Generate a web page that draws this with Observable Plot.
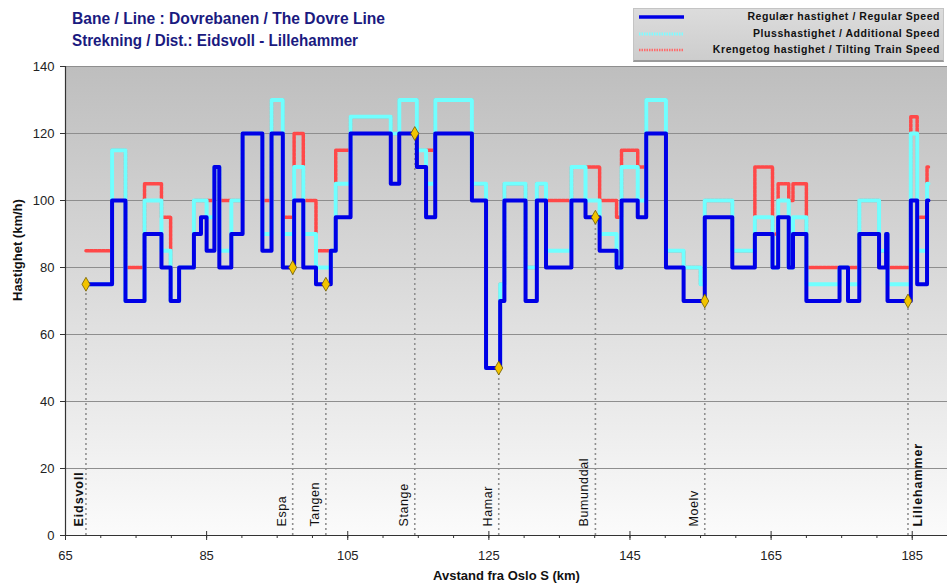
<!DOCTYPE html>
<html>
<head>
<meta charset="utf-8">
<script src="https://cdn.jsdelivr.net/npm/d3@7"></script>
<script src="https://cdn.jsdelivr.net/npm/@observablehq/plot@0.6"></script>
<style>
  html, body { margin: 0; padding: 0; background: #fff; }
  body { font-family: "Liberation Sans", Arial, sans-serif; }
  #wrap { position: relative; width: 947px; height: 586px; overflow: hidden; }
  #title { position: absolute; left: 72px; top: 8px; color: #1a1a80; font-weight: bold; font-size: 16px; line-height: 22px; white-space: nowrap; }
  #title div { transform-origin: 0 50%; }
  #legend { position: absolute; left: 633px; top: 8px; width: 311px; height: 54px;
    background: linear-gradient(#dcdcdc, #cdcdcd); border: 1px solid #c4c4c4; border-bottom: 2px solid #9a9a9a; box-sizing: border-box; }
  .lrow { position: absolute; left: 0; width: 100%; height: 16px; }
  .lrow svg { position: absolute; left: 4px; top: 0; }
  .lrow span { position: absolute; right: 3px; top: 1px; font-weight: bold; font-size: 10.5px; letter-spacing: 0.55px; color: #111; white-space: nowrap; }
</style>
</head>
<body>
<div id="wrap">
  <div id="chart"></div>
  <div id="title">
    <div id="t1">Bane / Line : Dovrebanen / The Dovre Line</div>
    <div id="t2">Strekning / Dist.: Eidsvoll - Lillehammer</div>
  </div>
  <div id="legend"></div>
</div>
<script>
// ---- data ----
const km = [67.9, 71.6, 73.5, 76.2, 78.6, 79.9, 81.1, 83.2, 84.2, 85.0, 86.1, 86.8, 88.5, 90.1, 92.9, 94.2, 95.8, 97.4, 98.7, 100.5,
            102.6, 103.3, 105.4, 111.1, 112.3, 114.8, 116.1, 117.4, 122.6, 124.6, 126.6, 127.2, 130.2, 131.8, 133.1, 136.7, 138.7, 140.7, 143.1, 143.8,
            146.1, 147.3, 150.1, 152.6, 155.0, 155.6, 159.5, 162.7, 165.2, 166.0, 167.5, 168.1, 170.0, 174.7, 175.9, 177.5, 180.3, 181.3, 181.5, 184.8,
            185.7, 187.1, 187.3];
const regular = [75, 100, 70, 90, 80, 70, 80, 90, 95, 85, 110, 80, 90, 120, 85, 120, 80, 100, 80, 75,
                 85, 95, 120, 105, 120, 110, 95, 120, 100, 50, 70, 100, 70, 100, 80, 100, 95, 85, 80, 100,
                 95, 120, 80, 70, 70, 95, 80, 90, 80, 95, 80, 90, 70, 80, 70, 90, 80, 90, 70, 100,
                 75, 100, 100];
const plus = [75, 115, 70, 100, 85, 70, 80, 100, 100, 95, 110, 85, 100, 120, 90, 130, 90, 110, 90, 80,
              85, 105, 125, 120, 130, 115, 105, 130, 105, 50, 75, 105, 80, 105, 85, 110, 100, 90, 80, 110,
              100, 130, 85, 80, 75, 100, 85, 95, 80, 100, 80, 95, 75, 80, 75, 100, 85, 90, 75, 120,
              85, 105, 105];
const tilting = [85, 115, 80, 105, 95, 70, 80, 100, 100, 100, 110, 100, 100, 120, 100, 130, 95, 120, 100, 85,
                 85, 115, 125, 120, 130, 115, 115, 130, 105, 50, 75, 105, 80, 105, 100, 110, 110, 100, 95, 115,
                 110, 130, 85, 80, 75, 100, 85, 110, 90, 105, 100, 105, 80, 80, 80, 100, 85, 90, 80, 125,
                 95, 110, 110];

const stations = ["Eidsvoll", "Espa", "Tangen", "Stange", "Hamar", "Bumunddal", "Moelv", "Lillehammer"];
const stationKm = [67.9, 97.2, 101.9, 114.5, 126.4, 140.1, 155.6, 184.4];
const stationSpeed = [75, 80, 75, 120, 50, 95, 70, 70];
const endStations = ["Eidsvoll", "Lillehammer"];

const xDomain = [65, 190];
const yDomain = [0, 140];
const xMajor = [65, 85, 105, 125, 145, 165, 185];
const xMinor = d3.range(65, 190, 5);
const yTicks = [0, 20, 40, 60, 80, 100, 120, 140];

const legendLabels = ["Regulær hastighet / Regular Speed", "Plusshastighet / Additional Speed", "Krengetog hastighet / Tilting Train Speed"];
const axisTitleX = "Avstand fra Oslo S (km)";
const axisTitleY = "Hastighet (km/h)";

// ---- build ----
const rows = km.map((k, i) => ({km: k, regular: regular[i], plus: plus[i], tilting: tilting[i]}));
const st = stations.map((n, i) => ({name: n, km: stationKm[i], speed: stationSpeed[i]}));
const stNormal = st.filter(d => !endStations.includes(d.name));
const stFirst = st.filter(d => d.name === endStations[0]);
const stLast = st.filter(d => d.name === endStations[1]);

const font = '"Liberation Sans", Arial, sans-serif';

const chart = Plot.plot({
  width: 947, height: 586,
  marginLeft: 65, marginRight: 0, marginTop: 66, marginBottom: 51,
  x: {domain: xDomain},
  y: {domain: yDomain},
  style: {fontFamily: font, fontSize: "13px", background: "transparent", color: "#222"},
  marks: [
    Plot.frame({fill: "url(#bgGrad)", stroke: null}),
    Plot.gridY(yTicks, {stroke: "#8e8e8e", strokeOpacity: 1, strokeWidth: 1}),
    Plot.ruleX(st, {x: "km", y1: 0, y2: "speed", stroke: "#8f8f8f", strokeWidth: 1.6, strokeDasharray: "2,3"}),
    Plot.line(rows, {x: "km", y: "tilting", curve: "step-after", stroke: "#ff4848", strokeWidth: 3.5, strokeDasharray: "3,1"}),
    Plot.line(rows, {x: "km", y: "plus", curve: "step-after", stroke: "#70ffff", strokeWidth: 4}),
    Plot.line(rows, {x: "km", y: "regular", curve: "step-after", stroke: "#0000e6", strokeWidth: 4, strokeLinejoin: "round"}),
    Plot.dot(st, {x: "km", y: "speed", symbol: "diamond", r: 4.2, fill: "#f2c400", stroke: "#6e5a00", strokeWidth: 0.8}),
    Plot.text(stNormal, {x: "km", text: "name", frameAnchor: "bottom", rotate: -90, textAnchor: "start", lineAnchor: "bottom",
      dx: -7, dy: -9, fontSize: 12.5, fill: "#111"}),
    Plot.text(stFirst, {x: "km", text: "name", frameAnchor: "bottom", rotate: -90, textAnchor: "start", lineAnchor: "bottom",
      dx: -3, dy: -9, fontSize: 12.5, fontWeight: "bold", fill: "#111"}),
    Plot.text(stLast, {x: "km", text: "name", frameAnchor: "bottom", rotate: -90, textAnchor: "start", lineAnchor: "top",
      dx: 5, dy: -9, fontSize: 12.5, fontWeight: "bold", fill: "#111"}),
    Plot.ruleY([yDomain[0]], {stroke: "#333", strokeWidth: 1.2}),
    Plot.ruleX([xDomain[0]], {stroke: "#333", strokeWidth: 1.2}),
    Plot.axisY({ticks: yTicks, tickSize: 5, tickPadding: 6, fontSize: 13, stroke: "#333", fill: "#222", label: null}),
    Plot.axisX({ticks: xMinor, tickSize: 3, text: null, stroke: "#333", label: null}),
    Plot.axisX({ticks: xMajor, tickSize: 9, dy: -4, text: null, stroke: "#333", label: null}),
    Plot.axisX({ticks: xMajor, tickSize: 0, tickPadding: 15, fontSize: 13, fill: "#222", label: null}),
    Plot.text([axisTitleX], {text: d => d, frameAnchor: "bottom", dy: 44, fontSize: 13, fontWeight: "bold", fill: "#111"}),
    Plot.text([axisTitleY], {text: d => d, frameAnchor: "left", dx: -48, rotate: -90, fontSize: 13, fontWeight: "bold", fill: "#111"})
  ]
});

// gradient background of the plot area
const svg = d3.select(chart);
const defs = svg.insert("defs", ":first-child");
const g = defs.append("linearGradient").attr("id", "bgGrad").attr("x1", 0).attr("y1", 0).attr("x2", 0).attr("y2", 1);
g.append("stop").attr("offset", "0%").attr("stop-color", "#bebebe");
g.append("stop").attr("offset", "100%").attr("stop-color", "#fbfbfb");

// letter spacing of station names
svg.selectAll("text").filter(function() { return stations.includes(this.textContent); })
  .each(function() {
    const sp = endStations.includes(this.textContent) ? "0.9px" : "0.6px";
    this.setAttribute("letter-spacing", sp);
    this.style.letterSpacing = sp;
  });

document.getElementById("chart").appendChild(chart);

// legend
const legend = d3.select("#legend");
const samples = [
  {stroke: "#0000e6", width: 3.5, dash: null},
  {stroke: "#7ffcff", width: 3, dash: "1.5,1"},
  {stroke: "#ff6a6a", width: 2.5, dash: "1.5,1"}
];
const rowTops = [0, 16.5, 33];
legendLabels.forEach((lab, i) => {
  const r = legend.append("div").attr("class", "lrow").style("top", rowTops[i] + "px");
  const s = r.append("svg").attr("width", 50).attr("height", 16);
  s.append("line").attr("x1", 1).attr("x2", 46).attr("y1", 8).attr("y2", 8)
    .attr("stroke", samples[i].stroke).attr("stroke-width", samples[i].width)
    .attr("stroke-dasharray", samples[i].dash);
  r.append("span").text(lab);
});

// fit title widths
const targets = {t1: 313, t2: 286};
for (const id in targets) {
  const el = document.getElementById(id);
  const range = document.createRange(); range.selectNodeContents(el);
  const tw = range.getBoundingClientRect().width;
  el.style.transform = `scaleX(${targets[id] / tw})`;
}
</script>
</body>
</html>
